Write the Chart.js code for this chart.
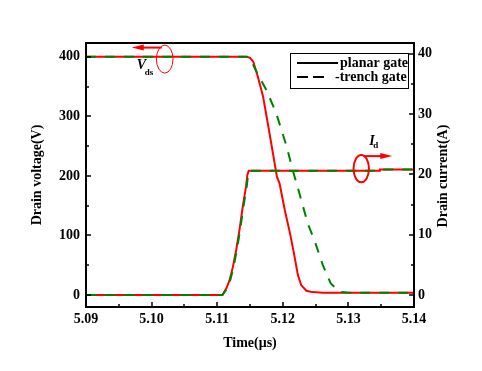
<!DOCTYPE html>
<html>
<head>
<meta charset="utf-8">
<script src="https://cdn.jsdelivr.net/npm/chart.js@4"></script>
<style>
  body { margin: 0; background: #fff; }
</style>
</head>
<body>
<canvas id="chart" width="482" height="371"></canvas>
<script>
// Switching waveforms: drain voltage (left axis) and drain current (right axis)

const timeTicks = [5.09, 5.10, 5.11, 5.12, 5.13, 5.14];
const voltTicks = [0, 100, 200, 300, 400];
const currTicks = [0, 10, 20, 30, 40];

// Vds, planar gate
const planarVTime = [5.09, 5.1145, 5.1150, 5.1155, 5.1162, 5.1170, 5.1178, 5.1185, 5.1191, 5.1195, 5.1203, 5.1211, 5.1217, 5.1223, 5.1228, 5.1236, 5.1245, 5.1261, 5.14];
const planarV = [400, 400, 398, 391.6, 366.4, 332.8, 282.5, 237.8, 198.6, 187.5, 142.7, 103.6, 70, 33.6, 16.8, 7.2, 5, 3.9, 3.9];

// Vds, trench gate
const trenchVTime = [5.09, 5.1145, 5.1150, 5.1160, 5.1175, 5.1190, 5.1206, 5.1215, 5.1221, 5.1231, 5.1238, 5.1249, 5.1261, 5.1273, 5.1287, 5.1300, 5.14];
const trenchV = [400, 400, 397.3, 374.8, 344, 305, 249, 209.8, 187.5, 148.2, 120.3, 89.5, 50.4, 19.6, 5.5, 4, 3.9];

// Id, planar gate
const planarITime = [5.09, 5.1108, 5.1114, 5.1119, 5.1124, 5.1129, 5.1134, 5.1139, 5.1144, 5.1146, 5.1148, 5.1347, 5.1348, 5.14];
const planarI = [0, 0, 1.1, 2.5, 4.7, 7.5, 10.8, 14.7, 18, 19.9, 20.6, 20.6, 20.8, 20.8];

// Id, trench gate
const trenchITime = [5.09, 5.1108, 5.1115, 5.1120, 5.1125, 5.1130, 5.1135, 5.1140, 5.1145, 5.1147, 5.1149, 5.1347, 5.1348, 5.14];
const trenchI = [0, 0, 1.1, 2.5, 4.7, 7.5, 10.8, 14.7, 18, 19.9, 20.6, 20.6, 20.8, 20.8];

const RED = '#ff0000';
const GREEN = '#008000';
const FONT = 'Liberation Serif, Times New Roman, serif';

function pts(xs, ys) {
    return xs.map((x, i) => ({ x: x, y: ys[i] }));
}

const tickFont = { family: FONT, size: 14, weight: 'bold' };
const titleFont = { family: FONT, size: 14, weight: 'bold' };

// frame, inside tick marks, right title, legend and the little arrow annotations
const decorPlugin = {
    id: 'decor',
    afterDraw(chart) {
        const ctx = chart.ctx;
        const a = chart.chartArea;
        const sx = chart.scales.x, sy = chart.scales.y, sy1 = chart.scales.y1;
        ctx.save();
        ctx.strokeStyle = '#000';
        ctx.lineWidth = 2;
        ctx.strokeRect(a.left, a.top, a.right - a.left, a.bottom - a.top);

        ctx.lineWidth = 1.5;
        ctx.beginPath();
        // bottom axis ticks
        for (let i = 0; i < timeTicks.length; i++) {
            const x = Math.round(sx.getPixelForValue(timeTicks[i]));
            ctx.moveTo(x, a.bottom); ctx.lineTo(x, a.bottom - 5);
            if (i < timeTicks.length - 1) {
                const xm = Math.round(sx.getPixelForValue((timeTicks[i] + timeTicks[i + 1]) / 2));
                ctx.moveTo(xm, a.bottom); ctx.lineTo(xm, a.bottom - 3);
            }
        }
        // left axis ticks
        for (let i = 0; i < voltTicks.length; i++) {
            const y = Math.round(sy.getPixelForValue(voltTicks[i]));
            ctx.moveTo(a.left, y); ctx.lineTo(a.left + 5, y);
            if (i < voltTicks.length - 1) {
                const ym = Math.round(sy.getPixelForValue(voltTicks[i] + 50));
                ctx.moveTo(a.left, ym); ctx.lineTo(a.left + 3, ym);
            }
        }
        // right axis ticks
        for (let i = 0; i < currTicks.length; i++) {
            const y = Math.round(sy1.getPixelForValue(currTicks[i]));
            ctx.moveTo(a.right, y); ctx.lineTo(a.right - 5, y);
            if (i < currTicks.length - 1) {
                const ym = Math.round(sy1.getPixelForValue(currTicks[i] + 5));
                ctx.moveTo(a.right, ym); ctx.lineTo(a.right - 3, ym);
            }
        }
        ctx.stroke();

        // right axis title, reads bottom to top like the left one
        ctx.fillStyle = '#000';
        ctx.font = 'bold 14px ' + FONT;
        ctx.save();
        ctx.translate(a.right + 29, (a.top + a.bottom) / 2 + 1);
        ctx.rotate(-Math.PI / 2);
        ctx.textAlign = 'center';
        ctx.textBaseline = 'middle';
        ctx.fillText('Drain current(A)', 0, 0);
        ctx.restore();

        // legend box
        const lx = a.right - 124, ly = a.top + 10;
        ctx.lineWidth = 1;
        ctx.strokeRect(lx + 0.5, ly + 0.5, 118, 35);
        ctx.lineWidth = 2;
        ctx.beginPath();
        ctx.moveTo(lx + 7, ly + 10); ctx.lineTo(lx + 48, ly + 10);
        ctx.stroke();
        ctx.setLineDash([11, 5]);
        ctx.beginPath();
        ctx.moveTo(lx + 7, ly + 24); ctx.lineTo(lx + 34, ly + 24);
        ctx.stroke();
        ctx.setLineDash([]);
        ctx.textBaseline = 'alphabetic';
        ctx.textAlign = 'left';
        ctx.fillText('planar gate', lx + 50, ly + 14);
        ctx.fillText('-trench gate', lx + 45, ly + 28);

        // Vds marker: ellipse with arrow to the left axis
        ctx.strokeStyle = RED;
        ctx.fillStyle = RED;
        const vx = sx.getPixelForValue(5.1020), vy = sy.getPixelForValue(396);
        ctx.lineWidth = 1;
        ctx.beginPath();
        ctx.ellipse(vx, vy, 8.3, 14, 0, 0, Math.PI * 2);
        ctx.stroke();
        drawArrow(ctx, vx - 3, vy - 11.5, vx - 33, vy - 11.5);

        // Id marker: ellipse with arrow to the right axis
        const ix = sx.getPixelForValue(5.13196), iy = sy1.getPixelForValue(20.96);
        ctx.beginPath();
        ctx.ellipse(ix, iy, 7.7, 13.7, 0, 0, Math.PI * 2);
        ctx.stroke();
        drawArrow(ctx, ix + 3, iy - 12.5, ix + 31, iy - 12.5);

        // labels
        ctx.fillStyle = '#000';
        ctx.font = 'italic bold 14px ' + FONT;
        ctx.fillText('V', vx - 28, vy + 9.5);
        ctx.fillText('I', ix + 8, iy - 23.5);
        ctx.font = 'bold 9px ' + FONT;
        ctx.fillText('ds', vx - 20, vy + 16);
        ctx.fillText('d', ix + 12, iy - 20.5);
        ctx.restore();
    }
};

function drawArrow(ctx, x0, y0, x1, y1) {
    const dir = Math.sign(x1 - x0);
    ctx.lineWidth = 2;
    ctx.beginPath();
    ctx.moveTo(x0, y0);
    ctx.lineTo(x1 - dir * 6, y1);
    ctx.stroke();
    ctx.beginPath();
    ctx.moveTo(x1, y1);
    ctx.lineTo(x1 - dir * 12, y1 - 3);
    ctx.lineTo(x1 - dir * 12, y1 + 3);
    ctx.closePath();
    ctx.fill();
}

function lineSet(label, data, axis, color, dashed) {
    return {
        label: label,
        data: data,
        yAxisID: axis,
        borderColor: color,
        borderWidth: 2,
        borderDash: dashed ? [10, 9] : [],
        pointRadius: 0,
        tension: 0,
        fill: false,
        order: dashed ? 0 : 1
    };
}

new Chart(document.getElementById('chart'), {
    type: 'line',
    data: {
        datasets: [
            lineSet('trench gate Vds', pts(trenchVTime, trenchV), 'y', GREEN, true),
            lineSet('trench gate Id', pts(trenchITime, trenchI), 'y1', GREEN, true),
            lineSet('planar gate Vds', pts(planarVTime, planarV), 'y', RED, false),
            lineSet('planar gate Id', pts(planarITime, planarI), 'y1', RED, false)
        ]
    },
    options: {
        responsive: false,
        animation: false,
        layout: { padding: { top: 43, left: 0, right: 0, bottom: 0 } },
        plugins: {
            legend: { display: false },
            tooltip: { enabled: false }
        },
        scales: {
            x: {
                type: 'linear',
                min: 5.09,
                max: 5.14,
                afterBuildTicks: s => { s.ticks = timeTicks.map(v => ({ value: v })); },
                afterFit: s => { s.height = 64; },
                grid: { display: false, drawTicks: false },
                border: { display: false },
                ticks: {
                    font: tickFont, color: '#000', padding: 4, maxRotation: 0,
                    callback: v => v.toFixed(2)
                },
                title: {
                    display: true, text: 'Time(μs)', font: titleFont, color: '#000',
                    padding: { top: 0, bottom: 19 }
                }
            },
            y: {
                position: 'left',
                min: -20,
                max: 423,
                afterBuildTicks: s => { s.ticks = voltTicks.map(v => ({ value: v })); },
                afterFit: s => { s.width = 86; },
                grid: { display: false, drawTicks: false },
                border: { display: false },
                ticks: { font: tickFont, color: '#000', padding: 6 },
                title: {
                    display: true, text: 'Drain voltage(V)', font: titleFont, color: '#000',
                    padding: { top: 29, bottom: 0 }
                }
            },
            y1: {
                position: 'right',
                min: -2,
                max: 41.8,
                afterBuildTicks: s => { s.ticks = currTicks.map(v => ({ value: v })); },
                afterFit: s => { s.width = 68; },
                grid: { display: false, drawTicks: false },
                border: { display: false },
                ticks: { font: tickFont, color: '#000', padding: 4 }
            }
        }
    },
    plugins: [decorPlugin]
});
</script>
</body>
</html>
